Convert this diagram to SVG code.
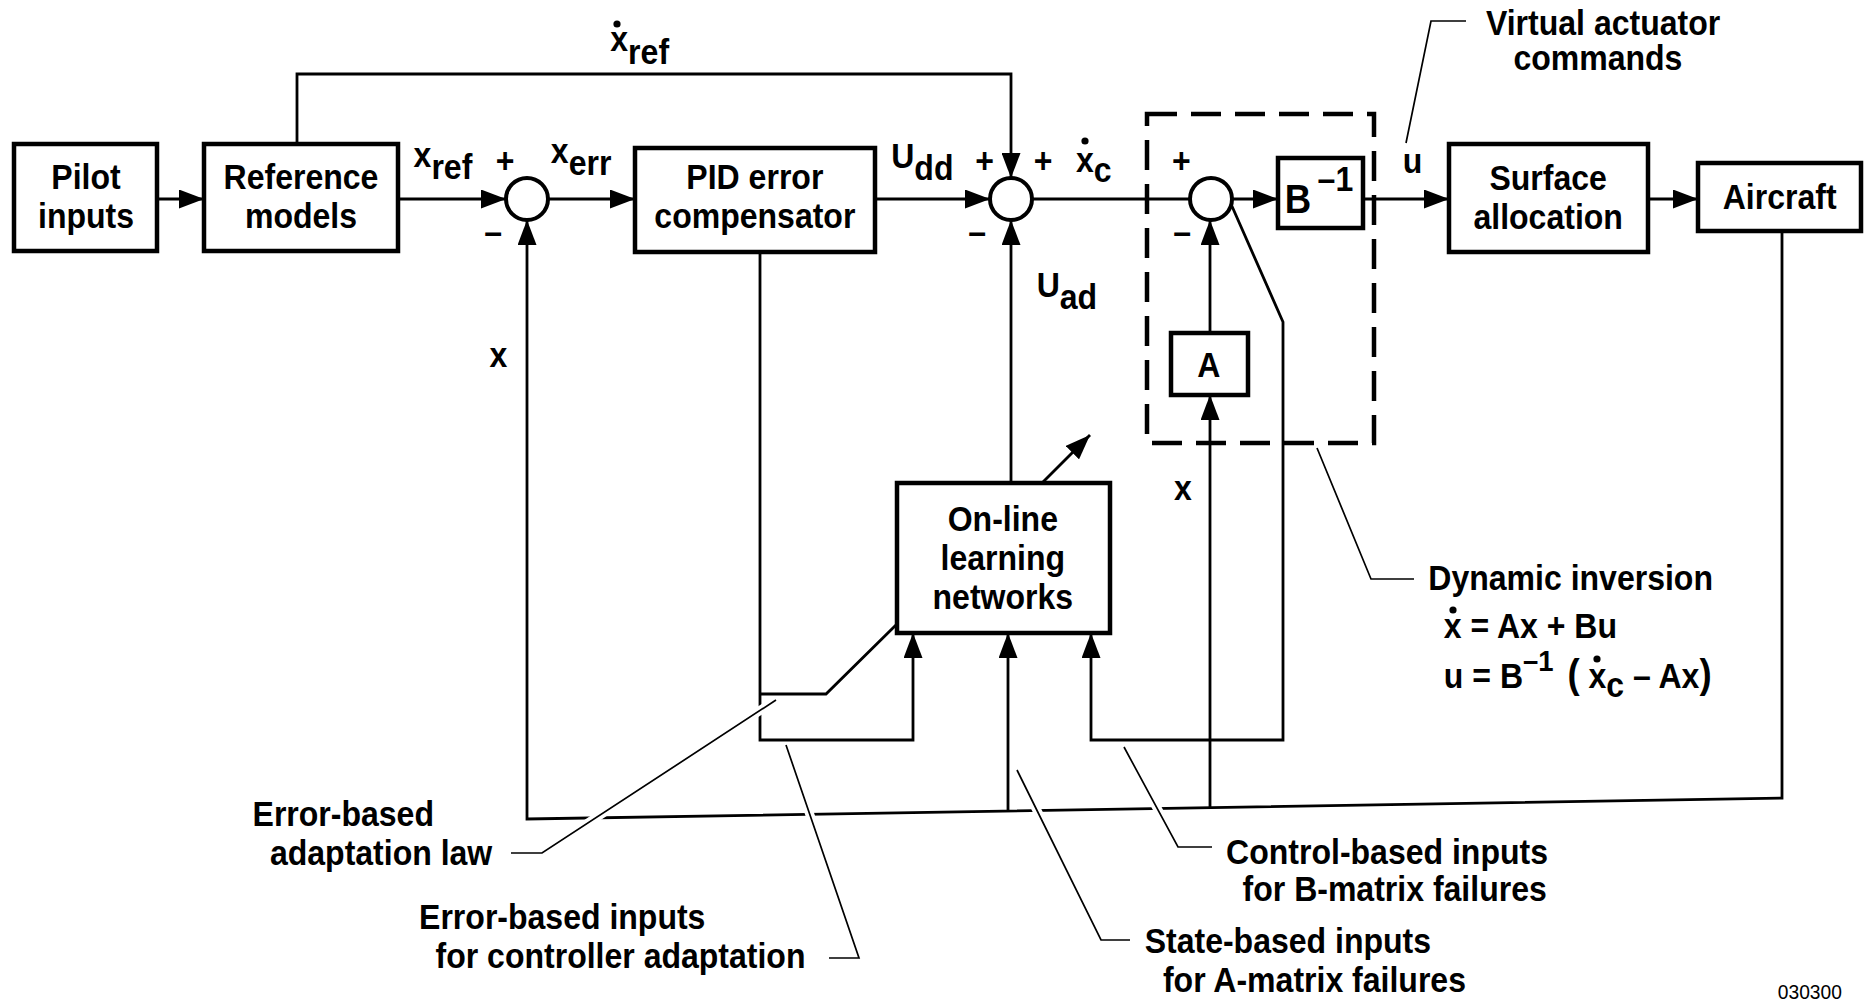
<svg xmlns="http://www.w3.org/2000/svg" width="1866" height="1000" viewBox="0 0 1866 1000">
<style>
text{font-family:"Liberation Sans",Arial,Helvetica,sans-serif;font-weight:bold;font-size:35px;fill:#000;transform:scaleX(0.915)}
.box{fill:#fff;stroke:#000;stroke-width:4.5}
.sum{fill:#fff;stroke:#000;stroke-width:4}
.c{fill:none;stroke:#000;stroke-width:2.8}
.dash{fill:none;stroke:#000;stroke-width:4.5;stroke-dasharray:30 14}
.halo{fill:none;stroke:#fff;stroke-width:9}
.lead{fill:none;stroke:#000;stroke-width:1.7}
.m{text-anchor:middle}
.big{font-size:40px}
.sup{font-size:30px}
.num{font-size:21px;font-weight:normal}
</style>
<defs>
<marker id="ar" markerUnits="userSpaceOnUse" markerWidth="27" markerHeight="19" refX="25" refY="9.5" orient="auto">
<path d="M0,0 L25,9.5 L0,19 Z" fill="#000"/>
</marker>
</defs>

<g id="connectors">
<path class="c" d="M157,199 H204" marker-end="url(#ar)"/>
<path class="c" d="M398,199 H506" marker-end="url(#ar)"/>
<path class="c" d="M548,199 H635" marker-end="url(#ar)"/>
<path class="c" d="M875,199 H990" marker-end="url(#ar)"/>
<path class="c" d="M297,144 V74 H1011 V178" marker-end="url(#ar)"/>
<path class="c" d="M1032,199 H1190"/>
<path class="c" d="M1232,199 H1278" marker-end="url(#ar)"/>
<path class="c" d="M1363,199 H1449" marker-end="url(#ar)"/>
<path class="c" d="M1648,199 H1698" marker-end="url(#ar)"/>
<path class="c" d="M1782,231 V798 L527,819 V220" marker-end="url(#ar)"/>
<path class="c" d="M1210,333 V220" marker-end="url(#ar)"/>
<path class="c" d="M1210,808 V395" marker-end="url(#ar)"/>
<path class="c" d="M1011,483 V220" marker-end="url(#ar)"/>
<path class="c" d="M1042,483 L1090,435" marker-end="url(#ar)"/>
<path class="c" d="M1008,811 V633" marker-end="url(#ar)"/>
<path class="c" d="M760,252 V740 H913 V633" marker-end="url(#ar)"/>
<path class="c" d="M760,694 H826 L897,624"/>
<path class="c" d="M1231,204 L1283,322 V740 H1091 V633" marker-end="url(#ar)"/>
</g>

<g id="dynamic-inversion-frame">
<rect class="dash" x="1147" y="114" width="227" height="329"/>
</g>

<g id="pilot-inputs">
<rect class="box" x="14" y="144" width="143" height="107"/>
<text class="m" x="94" y="189">Pilot</text>
<text class="m" x="94" y="228">inputs</text>
</g>
<g id="reference-models">
<rect class="box" x="204" y="144" width="194" height="107"/>
<text class="m" x="329" y="189">Reference</text>
<text class="m" x="329" y="228">models</text>
</g>
<g id="sum1">
<circle class="sum" cx="527" cy="199" r="21"/>
<text class="m" x="552" y="173">+</text>
<text class="m" x="539" y="244">–</text>
</g>
<g id="pid">
<rect class="box" x="635" y="148" width="240" height="104"/>
<text class="m" x="825" y="189">PID error</text>
<text class="m" x="825" y="228">compensator</text>
</g>
<g id="sum2">
<circle class="sum" cx="1011" cy="199" r="21"/>
<text class="m" x="1076" y="173">+</text>
<text class="m" x="1140" y="173">+</text>
<text class="m" x="1068" y="244">–</text>
</g>
<g id="sum3">
<circle class="sum" cx="1211" cy="199" r="21"/>
<text class="m" x="1291" y="173">+</text>
<text class="m" x="1292" y="244">–</text>
</g>
<g id="b-inverse">
<rect class="box" x="1278" y="158" width="85" height="70"/>
<text x="1404" y="213"><tspan class="big">B</tspan><tspan x="1440" y="191">–1</tspan></text>
</g>
<g id="a-block">
<rect class="box" x="1171" y="333" width="77" height="62"/>
<text class="m" x="1321" y="377">A</text>
</g>
<g id="surface-allocation">
<rect class="box" x="1449" y="144" width="199" height="108"/>
<text class="m" x="1692" y="190">Surface</text>
<text class="m" x="1692" y="229">allocation</text>
</g>
<g id="aircraft">
<rect class="box" x="1698" y="163" width="163" height="68"/>
<text class="m" x="1945" y="209">Aircraft</text>
</g>
<g id="online-learning">
<rect class="box" x="897" y="483" width="213" height="150"/>
<text class="m" x="1096" y="531">On-line</text>
<text class="m" x="1096" y="570">learning</text>
<text class="m" x="1096" y="609">networks</text>
</g>

<g id="signal-labels">
<circle cx="617" cy="24" r="3.6"/>
<text x="667" y="51">x<tspan dy="13">ref</tspan></text>
<text x="452" y="167">x<tspan dy="12">ref</tspan></text>
<text x="602" y="163">x<tspan dy="12">err</tspan></text>
<text x="974" y="168">U<tspan dy="12">dd</tspan></text>
<circle cx="1085" cy="141" r="3.6"/>
<text x="1176" y="172">x<tspan dy="10">c</tspan></text>
<text x="1133" y="297">U<tspan dy="12">ad</tspan></text>
<text x="1533" y="173">u</text>
<text x="535" y="367">x</text>
<text x="1283" y="500">x</text>
</g>

<g id="annotations">
<path class="halo" d="M1466,21 H1431 L1406,143"/>
<path class="lead" d="M1466,21 H1431 L1406,143"/>
<path class="halo" d="M1317,448 L1371,579 H1414"/>
<path class="lead" d="M1317,448 L1371,579 H1414"/>
<path class="halo" d="M776,700 L542,853 H511"/>
<path class="lead" d="M776,700 L542,853 H511"/>
<path class="halo" d="M786,745 L859,958 H829"/>
<path class="lead" d="M786,745 L859,958 H829"/>
<path class="halo" d="M1017,770 L1101,940 H1130"/>
<path class="lead" d="M1017,770 L1101,940 H1130"/>
<path class="halo" d="M1124,747 L1178,847 H1212"/>
<path class="lead" d="M1124,747 L1178,847 H1212"/>

<text x="1624" y="35">Virtual actuator</text>
<text x="1654" y="70">commands</text>
<text x="1561" y="590">Dynamic inversion</text>
<circle cx="1453" cy="610" r="3.6"/>
<text x="1578" y="638">x = Ax + Bu</text>
<circle cx="1597" cy="659" r="3.6"/>
<text x="1578" y="688">u = B<tspan class="sup" dy="-17">–1</tspan><tspan class="big" x="1713" dy="17">(</tspan><tspan x="1736">x</tspan><tspan dy="9">c</tspan><tspan dy="-9"> – Ax</tspan><tspan class="big">)</tspan></text>
<text x="276" y="826">Error-based</text>
<text x="295" y="865">adaptation law</text>
<text x="458" y="929">Error-based inputs</text>
<text x="476" y="968">for controller adaptation</text>
<text x="1340" y="864">Control-based inputs</text>
<text x="1358" y="901">for B-matrix failures</text>
<text x="1251" y="953">State-based inputs</text>
<text x="1271" y="992">for A-matrix failures</text>
<text class="num" x="1943" y="999">030300</text>
</g>
</svg>
